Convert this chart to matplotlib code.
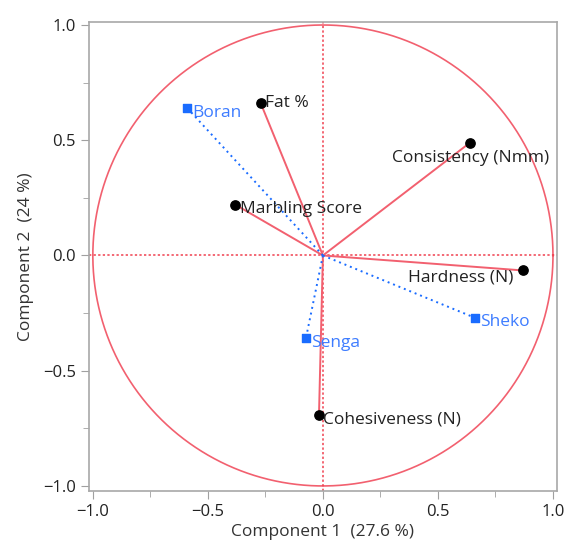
import numpy as np
import matplotlib.pyplot as plt
from matplotlib.ticker import MultipleLocator

# Variable loadings (Component 1, Component 2)
var_names = ["Fat %", "Consistency (Nmm)", "Marbling Score", "Hardness (N)", "Cohesiveness (N)"]
var_x = [-0.27, 0.64, -0.38, 0.87, -0.017]
var_y = [0.66, 0.49, 0.22, -0.065, -0.69]

# Breed scores (Component 1, Component 2)
grp_names = ["Boran", "Sheko", "Senga"]
grp_x = [-0.59, 0.66, -0.074]
grp_y = [0.64, -0.27, -0.36]

red = "#f2606f"
blue = "#1a6cff"
txt_blue = "#3d7cff"

plt.rcParams['font.family'] = ['Open Sans', 'DejaVu Sans']

fig = plt.figure(figsize=(5.7, 5.46), dpi=100)
ax = fig.add_axes([0.156, 0.1007, 0.821, 0.859])
ax.set_xlim(-1.017, 1.017)
ax.set_ylim(-1.022, 1.013)

# unit circle and reference axes
t = np.linspace(0, 2 * np.pi, 400)
ax.plot(np.cos(t), np.sin(t), color=red, lw=1.2, zorder=1)
ax.axhline(0, color="#f0404f", lw=1.1, ls=(0, (1.5, 1.5)), zorder=1)
ax.axvline(0, color="#f0404f", lw=1.1, ls=(0, (1.5, 1.5)), zorder=1)

# variable vectors
for x, y in zip(var_x, var_y):
    ax.plot([0, x], [0, y], color=red, lw=1.4, zorder=2)
ax.scatter(var_x, var_y, s=45, color="black", zorder=4)

# breed vectors
for x, y in zip(grp_x, grp_y):
    ax.plot([0, x], [0, y], color=blue, lw=1.4, ls=(0, (1, 2)), zorder=2)
ax.scatter(grp_x, grp_y, s=40, marker="s", color=blue, zorder=4)

fs = 12.5
offsets = {
    "Fat %": (0.018, 0.0, "left", "center"),
    "Consistency (Nmm)": (-0.34, -0.065, "left", "center"),
    "Marbling Score": (0.018, -0.02, "left", "center"),
    "Hardness (N)": (-0.04, -0.03, "right", "center"),
    "Cohesiveness (N)": (0.018, -0.02, "left", "center"),
}
for name, x, y in zip(var_names, var_x, var_y):
    dx, dy, ha, va = offsets[name]
    ax.text(x + dx, y + dy, name, fontsize=fs, ha=ha, va=va, color="#222222", zorder=5)

for name, x, y in zip(grp_names, grp_x, grp_y):
    ax.text(x + 0.022, y - 0.02, name, fontsize=fs, ha="left", va="center", color=txt_blue, zorder=5)

ax.xaxis.set_major_locator(MultipleLocator(0.5))
ax.xaxis.set_minor_locator(MultipleLocator(0.25))
ax.yaxis.set_major_locator(MultipleLocator(0.5))
ax.yaxis.set_minor_locator(MultipleLocator(0.25))
ax.tick_params(which="both", direction="out", color="#a0a0a0", labelsize=12, labelcolor="#222222")
ax.tick_params(which="major", length=6)
ax.tick_params(which="minor", length=4)
for s in ax.spines.values():
    s.set_color("#a8a8a8")
    s.set_linewidth(1.2)

ax.set_xlabel("Component 1  (27.6 %)", fontsize=12.5, color="#333333", labelpad=3)
ax.set_ylabel("Component 2  (24 %)", fontsize=12.5, color="#333333", labelpad=6)

fig.savefig("out.png", dpi=100)
